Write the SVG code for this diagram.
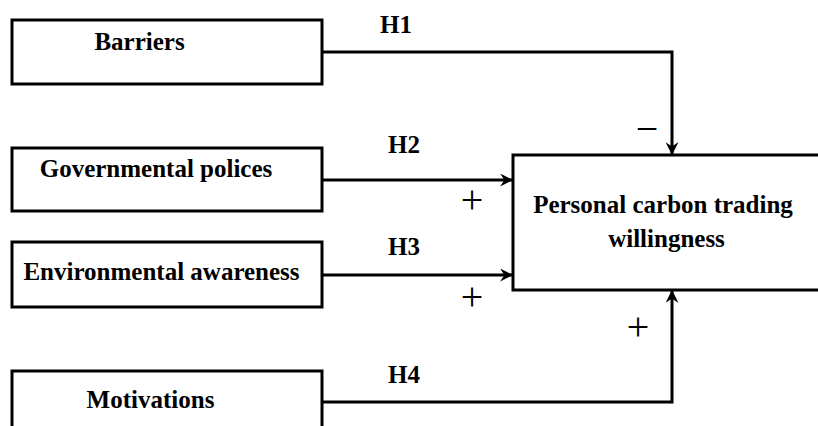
<svg xmlns="http://www.w3.org/2000/svg" width="818" height="426" viewBox="0 0 818 426">
<defs>
<style>
.box{fill:#fff;stroke:#000;stroke-width:3}
.lbl{font-family:"Liberation Serif","Times New Roman",serif;font-weight:bold;font-size:25px;fill:#000;text-anchor:middle}
.h{font-family:"Liberation Serif","Times New Roman",serif;font-weight:bold;font-size:25px;fill:#000}
.sign{font-family:"Liberation Serif","Times New Roman",serif;font-size:40px;fill:#000;text-anchor:middle}
.conn{fill:none;stroke:#000;stroke-width:3}
</style>
<marker id="arr" viewBox="0 0 12 12" refX="11" refY="6" markerWidth="13" markerHeight="13" markerUnits="userSpaceOnUse" orient="auto">
<path d="M0,0 L12,6 L0,12 L4,6 Z" fill="#000"/>
</marker>
</defs>
<rect width="818" height="426" fill="#fff"/>
<g id="barriers">
<rect class="box" x="12" y="20" width="310" height="64"/>
<text class="lbl" x="139.5" y="50">Barriers</text>
</g>
<g id="governmental">
<rect class="box" x="12" y="148" width="310" height="63"/>
<text class="lbl" x="156" y="177">Governmental polices</text>
</g>
<g id="environmental">
<rect class="box" x="12" y="242" width="310" height="65"/>
<text class="lbl" x="161.5" y="280">Environmental awareness</text>
</g>
<g id="motivations">
<rect class="box" x="12" y="371" width="310" height="80"/>
<text class="lbl" x="150.5" y="408">Motivations</text>
</g>
<g id="willingness">
<rect class="box" x="513" y="155" width="320" height="135"/>
<text class="lbl" x="663" y="213">Personal carbon trading</text>
<text class="lbl" x="666.5" y="247">willingness</text>
</g>
<g id="connectors">
<path class="conn" d="M322,52 H672 V154" marker-end="url(#arr)"/>
<path class="conn" d="M322,180 H512" marker-end="url(#arr)"/>
<path class="conn" d="M322,275 H512" marker-end="url(#arr)"/>
<path class="conn" d="M322,402 H672 V291" marker-end="url(#arr)"/>
<text class="h" x="380" y="33">H1</text>
<text class="h" x="388" y="153">H2</text>
<text class="h" x="388" y="255">H3</text>
<text class="h" x="388" y="383">H4</text>
<text class="sign" x="647" y="142">−</text>
<text class="sign" x="472" y="213">+</text>
<text class="sign" x="472" y="310">+</text>
<text class="sign" x="638" y="340">+</text>
</g>
</svg>
